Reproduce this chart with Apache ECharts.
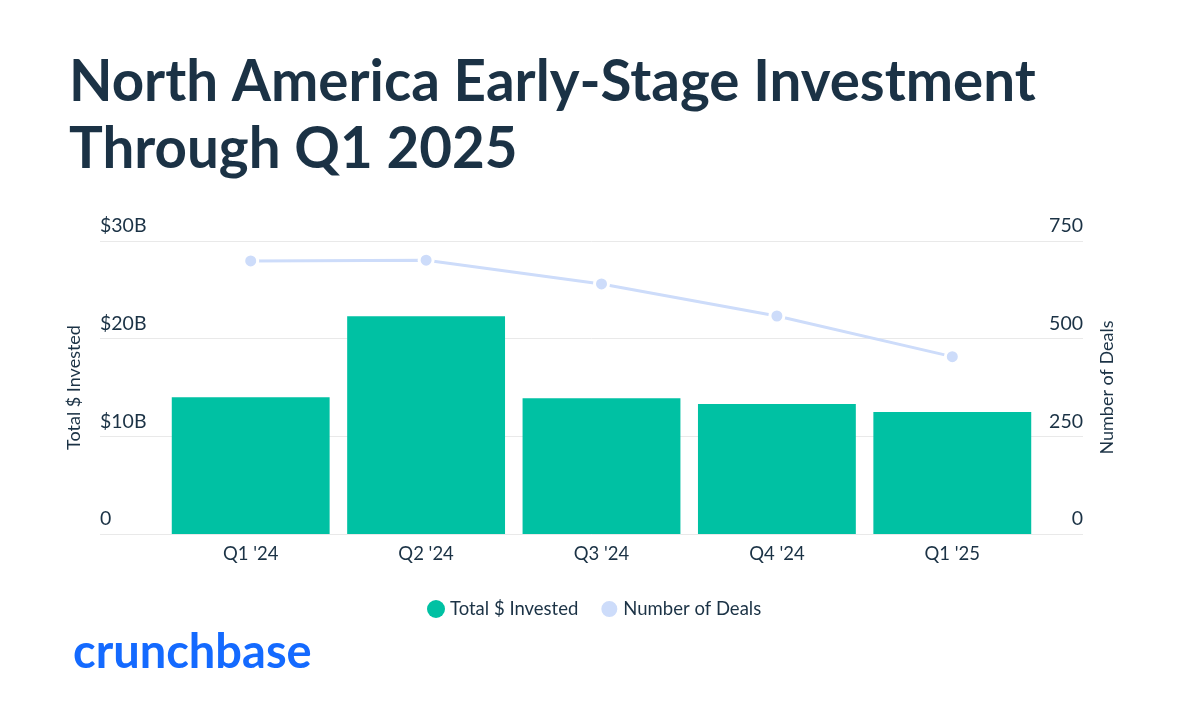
<!DOCTYPE html>
<html><head><meta charset="utf-8">
<script src="https://cdn.jsdelivr.net/npm/echarts@6/dist/echarts.min.js"></script>
<style>html,body{margin:0;padding:0;background:#fff}#c{width:1200px;height:727px}</style>
</head><body><div id="c"></div>
<script>
const categories = ["Q1 '24", "Q2 '24", "Q3 '24", "Q4 '24", "Q1 '25"];
const invested = [14.0, 22.3, 13.9, 13.3, 12.5]; // $B
const deals = [699, 701, 640, 558, 454];
const leftTicks = { min: 0, max: 30, interval: 10 };
const rightTicks = { min: 0, max: 750, interval: 250 };

const FONT = 'Lato';
const DARK = '#1b3245';
const chart = echarts.init(document.getElementById('c'));
chart.setOption({
  backgroundColor: '#fff',
  textStyle: { fontFamily: FONT },
  title: [
    { text: 'North America Early-Stage Investment\nThrough Q1 2025', left: 64, top: 44,
      textStyle: { fontFamily: FONT, fontWeight: 'bold', fontSize: 56.5, lineHeight: 67, color: DARK } },
    { text: 'crunchbase', left: 68, top: 624,
      textStyle: { fontFamily: FONT, fontWeight: 'bold', fontSize: 47, color: '#146aff' } }
  ],
  legend: {
    left: 422, top: 594, icon: 'circle', itemWidth: 18, itemHeight: 18, itemGap: 21,
    textStyle: { fontFamily: FONT, fontSize: 18.5, color: DARK },
    data: ['Total $ Invested', 'Number of Deals']
  },
  grid: [
    { left: 100, right: 117, top: 241, bottom: 193 },
    { left: 163, right: 160, top: 241, bottom: 193 }
  ],
  xAxis: [
    { type: 'value', gridIndex: 0, show: false, min: 0, max: 1 },
    { type: 'category', gridIndex: 1, data: categories,
      axisLine: { show: false }, axisTick: { show: false },
      axisLabel: { fontFamily: FONT, fontSize: 18.5, color: DARK, margin: 11 } }
  ],
  yAxis: [
    { type: 'value', gridIndex: 0, position: 'left', ...leftTicks,
      name: 'Total $ Invested', nameLocation: 'middle', nameGap: 17, nameRotate: 90,
      nameTextStyle: { fontFamily: FONT, fontSize: 18, color: DARK },
      axisLine: { show: false }, axisTick: { show: false },
      axisLabel: { inside: true, margin: 0, verticalAlign: 'bottom', padding: [0, 0, 5, 0],
        fontFamily: FONT, fontSize: 19.5, color: DARK,
        formatter: v => v === 0 ? '0' : '$' + v + 'B' },
      splitLine: { lineStyle: { color: '#e9e9e9', width: 1 } } },
    { type: 'value', gridIndex: 0, position: 'right', ...rightTicks,
      name: 'Number of Deals', nameLocation: 'middle', nameGap: 15, nameRotate: 90,
      nameTextStyle: { fontFamily: FONT, fontSize: 18, color: DARK },
      axisLine: { show: false }, axisTick: { show: false },
      axisLabel: { inside: true, margin: 0, verticalAlign: 'bottom', padding: [0, 0, 5, 0],
        fontFamily: FONT, fontSize: 19.5, color: DARK },
      splitLine: { show: false } },
    { type: 'value', gridIndex: 1, position: 'left', ...leftTicks, show: false, splitLine: { show: false } },
    { type: 'value', gridIndex: 1, position: 'right', ...rightTicks, show: false, splitLine: { show: false } }
  ],
  series: [
    { name: 'Total $ Invested', type: 'bar', xAxisIndex: 1, yAxisIndex: 2, data: invested,
      barCategoryGap: '10%', itemStyle: { color: '#00c1a3' } },
    { name: 'Number of Deals', type: 'line', xAxisIndex: 1, yAxisIndex: 3, data: deals,
      symbol: 'circle', symbolSize: 14, z: 5,
      lineStyle: { color: '#cddcfa', width: 3 },
      itemStyle: { color: '#cddcfa', borderColor: '#fff', borderWidth: 3 } }
  ]
});
</script></body></html>
